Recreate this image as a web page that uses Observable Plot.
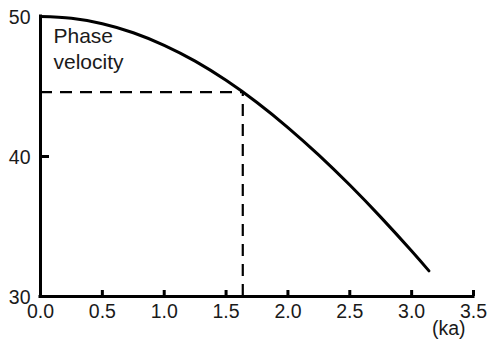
<!DOCTYPE html>
<html><head><meta charset="utf-8">
<script src="https://cdn.jsdelivr.net/npm/d3@7"></script>
<script src="https://cdn.jsdelivr.net/npm/@observablehq/plot@0.6"></script>
<style>body{margin:0;background:#fff} svg{display:block}</style>
</head><body><div id="chart"></div>
<script>
const ka = [0, 0.25, 0.5, 0.75, 1.0, 1.25, 1.5, 1.75, 2.0, 2.25, 2.5, 2.75, 3.0, 3.14];
const velocity = [50, 49.87, 49.48, 48.84, 47.94, 46.81, 45.44, 43.86, 42.07, 40.10, 37.96, 35.67, 33.25, 31.83];
const xTicks = [0, 0.5, 1, 1.5, 2, 2.5, 3, 3.5];
const yTicks = [30, 40, 50];
const yInnerTicks = [40];
const markerKa = 1.635;
const markerV = 44.6;
const curveLabel = "Phase\nvelocity";
const xLabel = "(ka)";

const data = ka.map((k, i) => ({ka: k, v: velocity[i]}));
const font = "'Liberation Sans', Arial, Helvetica, sans-serif";

const chart = Plot.plot({
  width: 489,
  height: 347,
  marginLeft: 40,
  marginRight: 16,
  marginTop: 16,
  marginBottom: 51,
  style: {fontFamily: font, fontSize: "19.5px", color: "#1a1a1a", background: "#fff"},
  x: {domain: [0, 3.5], label: null},
  y: {domain: [30, 50], label: null},
  marks: [
    Plot.axisX(xTicks, {tickSize: 0, tickPadding: 8, tickFormat: d3.format(".1f"), fontSize: 19.5}),
    Plot.axisY(yTicks, {tickSize: 0, tickPadding: 10, fontSize: 19.5, dy: 1}),
    Plot.ruleX(xTicks, {x: d => d, y1: 30, y2: 30 + 6 / 14, stroke: "#000", strokeWidth: 3}),
    Plot.ruleY(yInnerTicks, {y: d => d, x1: 0, x2: 9 / 124, stroke: "#000", strokeWidth: 3}),
    Plot.ruleY([markerV], {x1: 0, x2: markerKa, stroke: "#000", strokeWidth: 2.2, strokeDasharray: "12,8"}),
    Plot.ruleX([markerKa], {y1: 30, y2: markerV, stroke: "#000", strokeWidth: 2.2, strokeDasharray: "12,8"}),
    Plot.ruleX([0], {y1: 30, y2: 50, stroke: "#000", strokeWidth: 3, strokeLinecap: "square"}),
    Plot.ruleY([30], {x1: 0, x2: 3.5, stroke: "#000", strokeWidth: 3, strokeLinecap: "square"}),
    Plot.line(data, {x: "ka", y: "v", curve: "natural", stroke: "#000", strokeWidth: 3}),
    Plot.text([curveLabel], {frameAnchor: "top-left", dx: 13, dy: 9, lineAnchor: "top", textAnchor: "start", lineHeight: 1.2, fontSize: 21, fill: "#1a1a1a"}),
    Plot.text([xLabel], {frameAnchor: "bottom-right", dx: -8, dy: 32, lineAnchor: "middle", textAnchor: "end", fontSize: 19.5, fill: "#1a1a1a"})
  ]
});
document.getElementById("chart").appendChild(chart);
</script>
</body></html>
